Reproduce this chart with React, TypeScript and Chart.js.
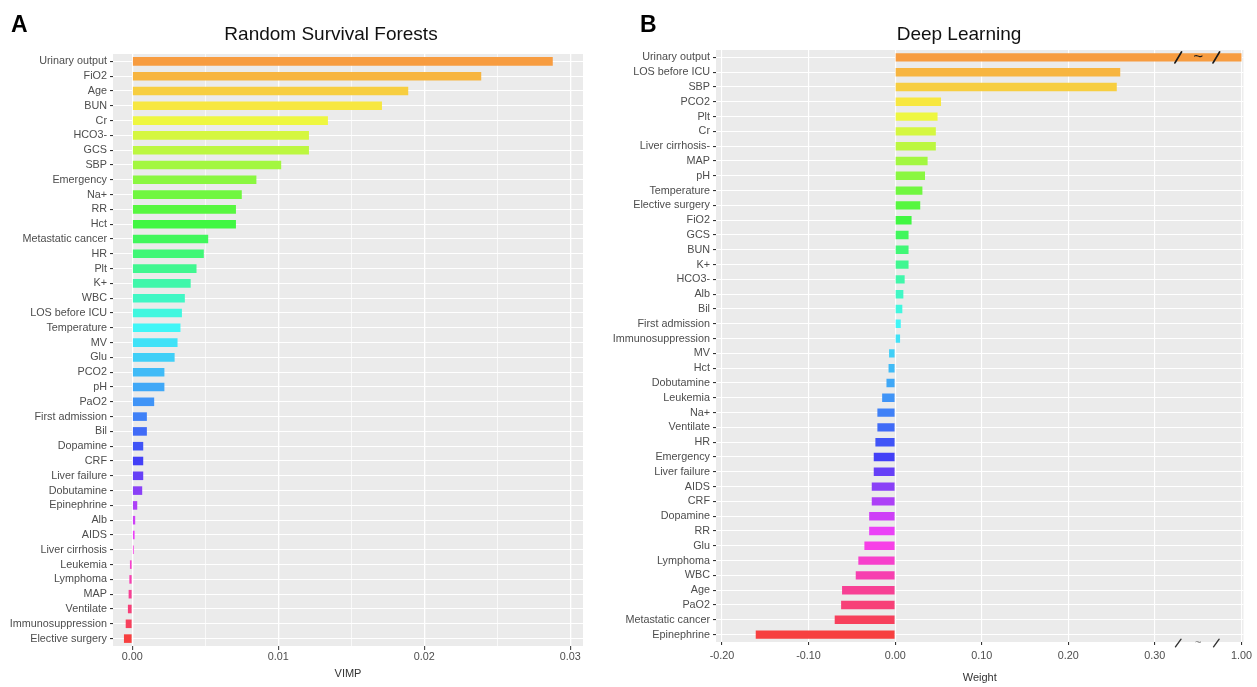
import React, { useEffect, useRef } from "react";
import { Chart, registerables } from "chart.js";

Chart.register(...registerables);

// ---------- Panel A: Random Survival Forests ----------
const rsfLabels = [
  "Urinary output", "FiO2", "Age", "BUN", "Cr", "HCO3-", "GCS", "SBP", "Emergency", "Na+",
  "RR", "Hct", "Metastatic cancer", "HR", "Plt", "K+", "WBC", "LOS before ICU", "Temperature", "MV",
  "Glu", "PCO2", "pH", "PaO2", "First admission", "Bil", "Dopamine", "CRF", "Liver failure", "Dobutamine",
  "Epinephrine", "Alb", "AIDS", "Liver cirrhosis", "Leukemia", "Lymphoma", "MAP", "Ventilate", "Immunosuppression", "Elective surgery",
];
const rsfValues = [
  0.0288, 0.0239, 0.0189, 0.0171, 0.0134, 0.0121, 0.0121, 0.0102, 0.0085, 0.0075,
  0.0071, 0.0071, 0.0052, 0.0049, 0.0044, 0.0040, 0.0036, 0.0034, 0.0033, 0.0031,
  0.0029, 0.0022, 0.0022, 0.0015, 0.0010, 0.0010, 0.00075, 0.00075, 0.00075, 0.00068,
  0.00034, 0.0002, 0.00016, 0.0001, -0.00016, -0.0002, -0.00025, -0.0003, -0.00045, -0.00057,
];
const rsfTicks = [0, 0.005, 0.01, 0.015, 0.02, 0.025, 0.03];

// ---------- Panel B: Deep Learning ----------
const dlLabels = [
  "Urinary output", "LOS before ICU", "SBP", "PCO2", "Plt", "Cr", "Liver cirrhosis-", "MAP", "pH", "Temperature",
  "Elective surgery", "FiO2", "GCS", "BUN", "K+", "HCO3-", "Alb", "Bil", "First admission", "Immunosuppression",
  "MV", "Hct", "Dobutamine", "Leukemia", "Na+", "Ventilate", "HR", "Emergency", "Liver failure", "AIDS",
  "CRF", "Dopamine", "RR", "Glu", "Lymphoma", "WBC", "Age", "PaO2", "Metastatic cancer", "Epinephrine",
];
const dlValues = [
  1.0, 0.26, 0.256, 0.053, 0.049, 0.047, 0.047, 0.0375, 0.0345, 0.0315,
  0.029, 0.019, 0.0155, 0.0155, 0.0155, 0.011, 0.0095, 0.0083, 0.0065, 0.0057,
  -0.007, -0.0076, -0.010, -0.015, -0.0205, -0.0205, -0.0228, -0.0247, -0.0247, -0.027,
  -0.027, -0.030, -0.030, -0.0355, -0.0425, -0.0455, -0.0613, -0.0624, -0.0698, -0.161,
];
const dlTicks = [-0.2, -0.1, 0, 0.1, 0.2, 0.3, 1.0];
// broken axis: values between 0.3 and 1.0 are squeezed into 0.3..0.4
const dlBreakFrom = 0.3;
const dlBreakTo = 1.0;
const dlBreakShown = 0.4;

const FONT = '"Liberation Sans", Arial, Helvetica, sans-serif';
const TICK_TEXT = "#4D4D4D";
const TICK_MARK = "#333333";

function squash(v: number): number {
  if (v <= dlBreakFrom) return v;
  return dlBreakFrom + ((v - dlBreakFrom) * (dlBreakShown - dlBreakFrom)) / (dlBreakTo - dlBreakFrom);
}

const hueStops: [number, number][] = [
  [0, 30], [0.28, 120], [0.46, 180], [0.62, 220], [0.69, 240], [0.79, 285], [1, 360],
];
function hueAt(t: number): number {
  for (let i = 1; i < hueStops.length; i++) {
    const [t0, h0] = hueStops[i - 1];
    const [t1, h1] = hueStops[i];
    if (t <= t1) return h0 + ((h1 - h0) * (t - t0)) / (t1 - t0);
  }
  return 360;
}
function rainbow(n: number): string[] {
  return Array.from({ length: n }, (_, i) => `hsl(${hueAt(i / (n - 1)).toFixed(1)}, 92%, 61%)`);
}

const panelBg = {
  id: "panelBg",
  beforeDraw(chart: any) {
    const { ctx, chartArea: a } = chart;
    ctx.save();
    ctx.fillStyle = "#EBEBEB";
    ctx.fillRect(a.left, a.top, a.right - a.left, a.bottom - a.top);
    ctx.restore();
  },
};

const breakMarks = {
  id: "breakMarks",
  afterDatasetsDraw(chart: any) {
    const { ctx, chartArea: a, scales } = chart;
    const x = scales.x;
    const y = scales.y;
    const span = dlBreakShown - dlBreakFrom;
    const xs = [0.27, 0.5, 0.71].map((f) => x.getPixelForValue(dlBreakFrom + span * f));
    const yTop = y.getPixelForValue(0);
    const slash = (cx: number, cy: number, h: number, w: number) => {
      ctx.beginPath();
      ctx.moveTo(cx - w, cy + h);
      ctx.lineTo(cx + w, cy - h);
      ctx.stroke();
    };
    ctx.save();
    ctx.lineCap = "round";
    ctx.strokeStyle = "#1a1a1a";
    ctx.lineWidth = 1.8;
    slash(xs[0], yTop, 5.5, 3.3);
    slash(xs[2], yTop, 5.5, 3.3);
    ctx.fillStyle = "#1a1a1a";
    ctx.font = `17px ${FONT}`;
    ctx.textAlign = "center";
    ctx.textBaseline = "middle";
    ctx.fillText("~", xs[1], yTop);
    const yb = a.bottom + 1;
    ctx.strokeStyle = "#333";
    ctx.lineWidth = 1.4;
    slash(xs[0], yb, 3.8, 2.8);
    slash(xs[2], yb, 3.8, 2.8);
    ctx.fillStyle = "#777";
    ctx.font = `11px ${FONT}`;
    ctx.fillText("~", xs[1], yb);
    ctx.restore();
  },
};

const isMajor = (v: number) => Math.abs(v * 100 - Math.round(v * 100)) < 1e-6;

function configA(): any {
  return {
    type: "bar",
    data: {
      labels: rsfLabels,
      datasets: [
        {
          data: rsfValues,
          backgroundColor: rainbow(rsfValues.length),
          borderWidth: 0,
          barPercentage: 0.58,
          categoryPercentage: 1,
        },
      ],
    },
    options: {
      indexAxis: "y",
      animation: false,
      responsive: false,
      devicePixelRatio: 1,
      layout: { padding: { top: 54, right: 17, left: 0, bottom: 0 } },
      plugins: { legend: { display: false }, tooltip: { enabled: false }, title: { display: false } },
      scales: {
        x: {
          type: "linear",
          min: -0.00132,
          max: 0.03087,
          bounds: "data",
          afterBuildTicks: (s: any) => {
            s.ticks = rsfTicks.map((v) => ({ value: v }));
          },
          afterFit: (s: any) => {
            s.height = 41;
          },
          ticks: {
            autoSkip: false,
            maxRotation: 0,
            padding: 1,
            color: TICK_TEXT,
            font: { family: FONT, size: 10.8 },
            callback: (v: number) => (isMajor(v) ? v.toFixed(2) : ""),
          },
          grid: {
            color: "#FFFFFF",
            lineWidth: (c: any) => (c.tick && isMajor(c.tick.value) ? 1.3 : 0.7),
            drawTicks: true,
            tickLength: 4,
            tickWidth: 1,
            tickColor: (c: any) => (c.tick && isMajor(c.tick.value) ? TICK_MARK : "rgba(0,0,0,0)"),
          },
          border: { display: false },
          title: {
            display: true,
            text: "VIMP",
            color: "#333",
            font: { family: FONT, size: 11 },
            padding: { top: 0, bottom: 6 },
          },
        },
        y: {
          type: "category",
          afterFit: (s: any) => {
            s.width = 113;
          },
          ticks: {
            autoSkip: false,
            padding: 3,
            color: TICK_TEXT,
            font: { family: FONT, size: 10.8 },
          },
          grid: {
            offset: false,
            color: "#FFFFFF",
            lineWidth: 1.1,
            drawTicks: true,
            tickLength: 3,
            tickColor: TICK_MARK,
          },
          border: { display: false },
        },
      },
    },
    plugins: [panelBg],
  };
}

function configB(): any {
  return {
    type: "bar",
    data: {
      labels: dlLabels,
      datasets: [
        {
          data: dlValues.map(squash),
          backgroundColor: rainbow(dlValues.length),
          borderWidth: 0,
          barPercentage: 0.57,
          categoryPercentage: 1,
        },
      ],
    },
    options: {
      indexAxis: "y",
      animation: false,
      responsive: false,
      devicePixelRatio: 1,
      layout: { padding: { top: 50, right: 11, left: 0, bottom: 0 } },
      plugins: { legend: { display: false }, tooltip: { enabled: false }, title: { display: false } },
      scales: {
        x: {
          type: "linear",
          min: -0.2069,
          max: 0.4023,
          bounds: "data",
          afterBuildTicks: (s: any) => {
            s.ticks = dlTicks.map((r) => ({ value: squash(r) }));
          },
          afterFit: (s: any) => {
            s.height = 45;
          },
          ticks: {
            autoSkip: false,
            maxRotation: 0,
            padding: 5,
            color: TICK_TEXT,
            font: { family: FONT, size: 10.8 },
            callback: (v: number) => {
              const r = dlTicks.find((t) => Math.abs(squash(t) - v) < 1e-9);
              return r === undefined ? "" : r.toFixed(2);
            },
          },
          grid: {
            color: "#FFFFFF",
            lineWidth: 1.1,
            drawTicks: true,
            tickLength: 3,
            tickColor: TICK_MARK,
          },
          border: { display: false },
          title: {
            display: true,
            text: "Weight",
            color: "#333",
            font: { family: FONT, size: 11 },
            padding: { top: 0, bottom: 2 },
          },
        },
        y: {
          type: "category",
          afterFit: (s: any) => {
            s.width = 116;
          },
          ticks: {
            autoSkip: false,
            padding: 3,
            color: TICK_TEXT,
            font: { family: FONT, size: 10.8 },
          },
          grid: {
            offset: false,
            color: "#FFFFFF",
            lineWidth: 1.1,
            drawTicks: true,
            tickLength: 3,
            tickColor: TICK_MARK,
          },
          border: { display: false },
        },
      },
    },
    plugins: [panelBg, breakMarks],
  };
}

export default function App() {
  const refA = useRef<HTMLCanvasElement | null>(null);
  const refB = useRef<HTMLCanvasElement | null>(null);

  useEffect(() => {
    const a = new Chart(refA.current as HTMLCanvasElement, configA());
    const b = new Chart(refB.current as HTMLCanvasElement, configB());
    return () => {
      a.destroy();
      b.destroy();
    };
  }, []);

  const letter: React.CSSProperties = {
    position: "absolute",
    top: 13,
    fontSize: 23,
    fontWeight: "bold",
    lineHeight: 1,
    color: "#000",
  };
  const title: React.CSSProperties = {
    position: "absolute",
    top: 24,
    width: 400,
    textAlign: "center",
    fontSize: 19,
    lineHeight: 1,
    color: "#111",
  };

  return (
    <div
      style={{
        position: "fixed",
        left: 0,
        top: 0,
        width: 1257,
        height: 687,
        background: "#FFFFFF",
        fontFamily: FONT,
        overflow: "hidden",
      }}
    >
      <canvas
        ref={refA}
        width={600}
        height={687}
        style={{ position: "absolute", left: 0, top: 0, width: 600, height: 687 }}
      />
      <canvas
        ref={refB}
        width={657}
        height={687}
        style={{ position: "absolute", left: 600, top: 0, width: 657, height: 687 }}
      />
      <div style={{ ...letter, left: 11 }}>A</div>
      <div style={{ ...title, left: 131 }}>Random Survival Forests</div>
      <div style={{ ...letter, left: 640 }}>B</div>
      <div style={{ ...title, left: 759 }}>Deep Learning</div>
    </div>
  );
}
